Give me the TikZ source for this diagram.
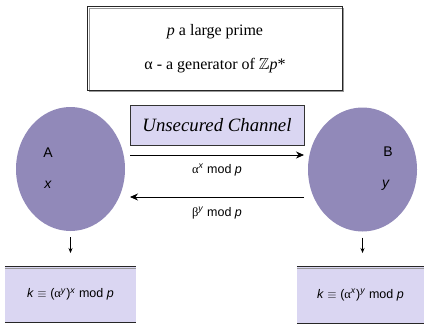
\documentclass[tikz,border=0pt]{standalone}
\usepackage{fontspec}
\usepackage{amssymb}
\setmainfont{Liberation Serif}
\setsansfont{Liberation Sans}
\usetikzlibrary{arrows.meta,shapes.geometric}
\definecolor{ell}{HTML}{9189B9}
\definecolor{lav}{HTML}{DAD6F2}
\tikzset{
  party/.style={ellipse, fill=ell, draw=none, inner sep=0pt, minimum width=109pt, minimum height=124pt},
  keybox/.style={rectangle, fill=lav, draw=none, inner sep=0pt, font=\sffamily\fontsize{12.5}{14}\selectfont},
  rulea/.style={line width=1.1pt, black!85},
  ruleb/.style={line width=0.9pt, black!40},
  msg/.style={-{Stealth[length=8pt,width=7pt]}, line width=0.8pt},
  down/.style={-{Stealth[length=5pt,width=4pt]}, line width=0.5pt},
  lbl/.style={font=\sffamily\fontsize{12.5}{14}\selectfont},
  big/.style={font=\sffamily\fontsize{14}{16}\selectfont}
}
\begin{document}
\begin{tikzpicture}[x=1pt,y=-1pt]
\useasboundingbox (0,0) rectangle (425,324);
% top box
\node[rectangle, inner sep=0pt, minimum width=254pt, minimum height=83pt, align=center,
  font=\fontsize{16}{34}\selectfont] (tb) at (215,48.5)
  {\textit{p} a large prime\\ α - a generator of $\mathbb{Z}$\textit{p}*};
\draw[ruleb] ([shift={(1.2pt,-1.2pt)}]tb.north west) rectangle ([shift={(1.2pt,-1.2pt)}]tb.south east);
\draw[rulea] (tb.north west) rectangle (tb.south east);
% channel
\node[rectangle, fill=lav, draw=black!80, line width=0.8pt, minimum width=174pt, minimum height=40pt, inner sep=0pt,
  font=\itshape\fontsize{18.8}{20}\selectfont] (ch) at (217,125) {Unsecured Channel};
% parties
\node[party] (A) at (70.5,169) {};
\node[party] (B) at (362.5,169.5) {};
\node[big] (An) at (48,153) {A};
\node[big] (Ax) at (48,185) {\textit{x}};
\node[big] (Bn) at (388,152) {B};
\node[big] (By) at (386,185) {\textit{y}};
% messages
\coordinate (m1s) at (130,155);
\coordinate (m1e) at (304,155);
\coordinate (m2s) at (304,197);
\coordinate (m2e) at (130,197);
\draw[msg] (m1s) -- (m1e);
\draw[msg] (m2s) -- (m2e);
\node[lbl] (l1) at (217,170) {{\rmfamily α}\textsuperscript{\textit{x}} mod \textit{p}};
\node[lbl] (l2) at (217,213) {{\rmfamily β}\textsuperscript{\textit{y}} mod \textit{p}};
% key boxes
\node[keybox, minimum width=131pt, minimum height=55pt] (kA) at (70.5,294.5)
  {\textit{k} $\equiv$ ({\rmfamily α}\textsuperscript{\textit{y}})\textsuperscript{\textit{x}} mod \textit{p}};
\node[keybox, minimum width=127pt, minimum height=56pt] (kB) at (360.5,295)
  {\textit{k} $\equiv$ ({\rmfamily α}\textsuperscript{\textit{x}})\textsuperscript{\textit{y}} mod \textit{p}};
\foreach \k in {kA,kB}{
  \draw[rulea] (\k.north west) -- (\k.north east);
  \draw[ruleb] ([yshift=-1.2pt]\k.north west) -- ([yshift=-1.2pt]\k.north east);
  \draw[rulea] (\k.south west) -- (\k.south east);
}
\coordinate (dA) at (70.5,253);
\coordinate (dB) at (362.5,253);
\draw[down] ([yshift=-6pt]A.south) -- (dA);
\draw[down] ([yshift=-6pt]B.south) -- (dB);
\end{tikzpicture}
\end{document}
